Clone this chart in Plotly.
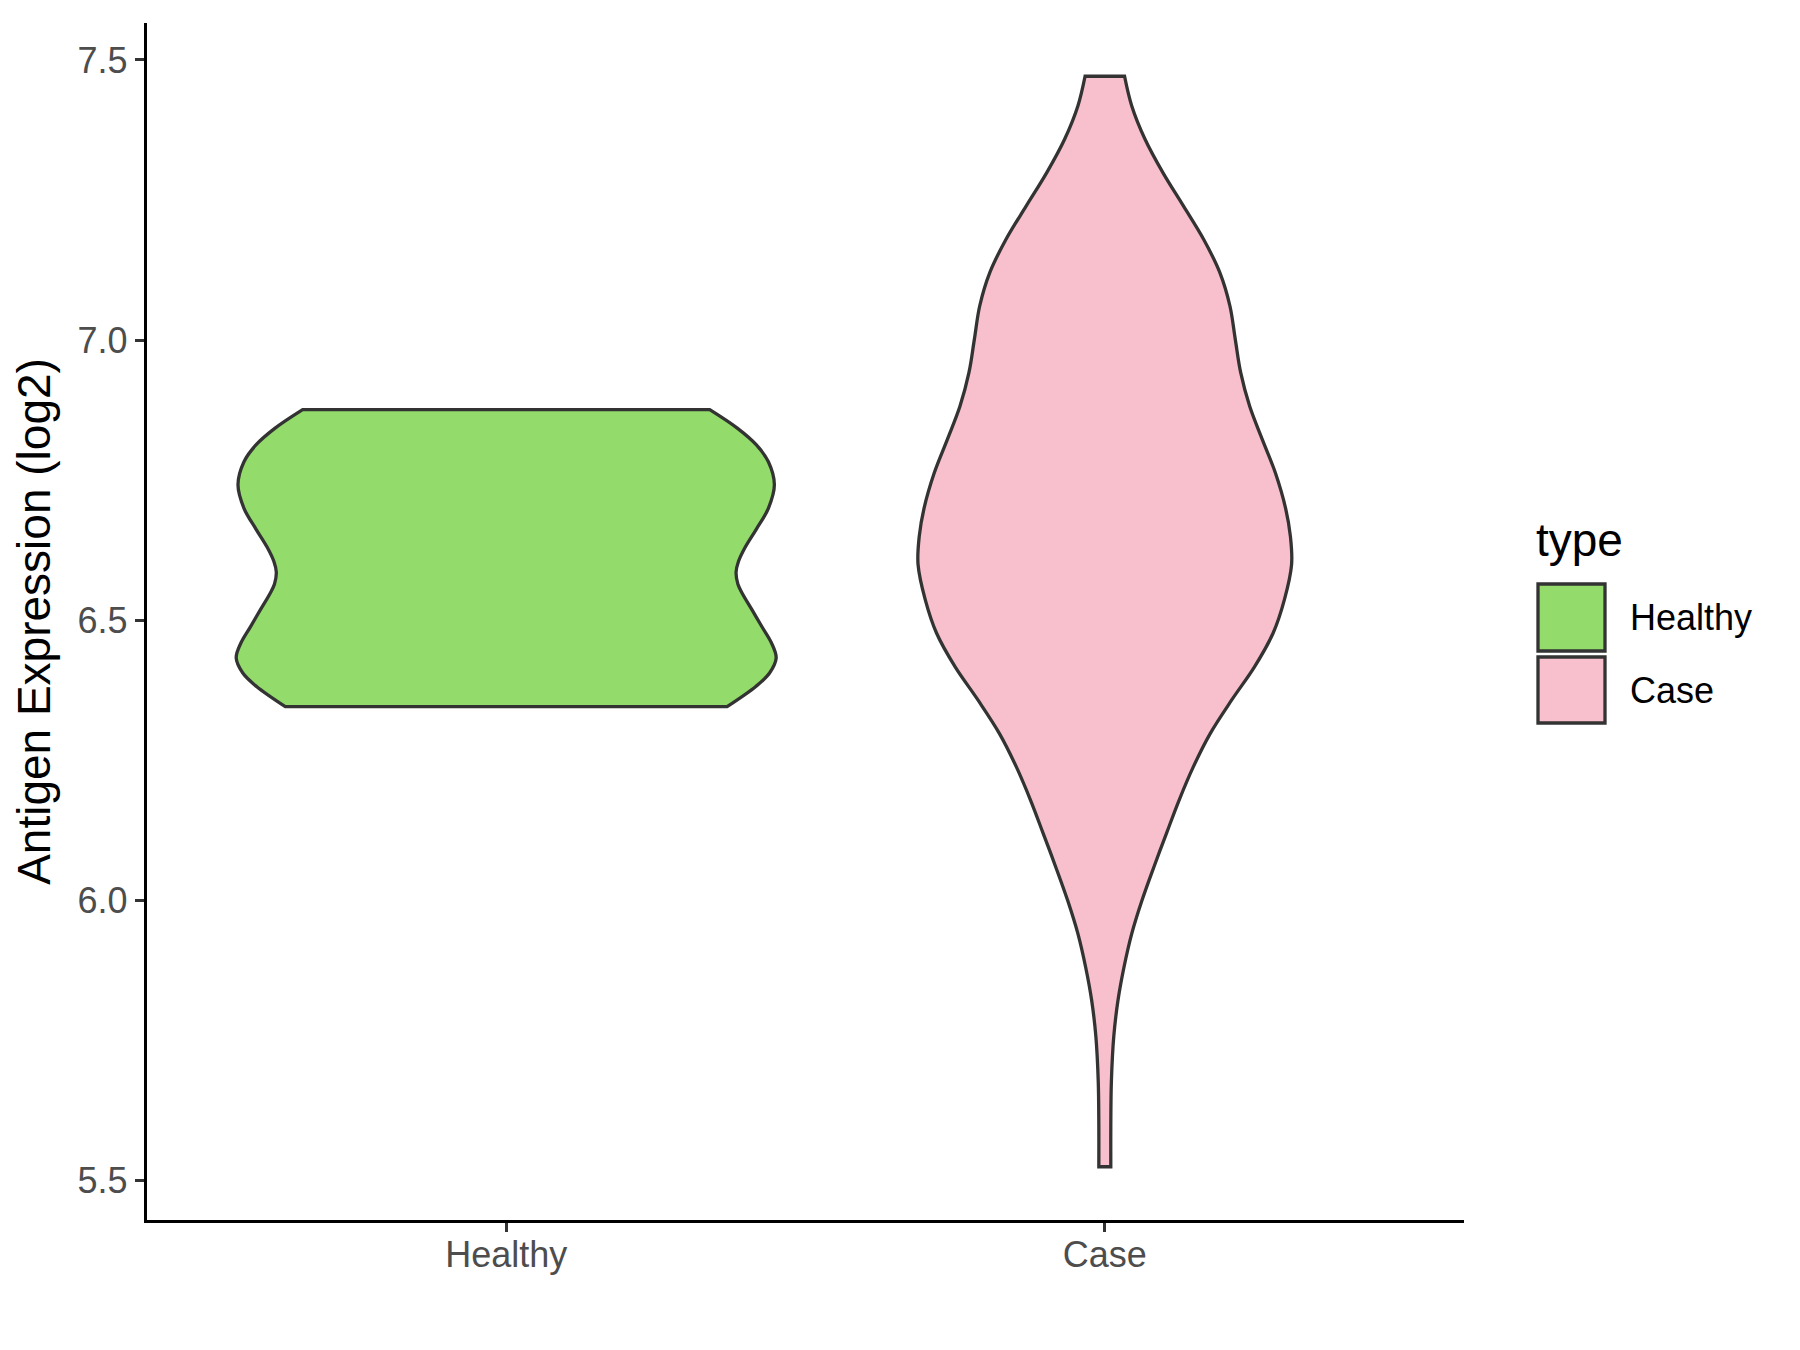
import plotly.graph_objects as go

# ---- data (violin density profiles: y value, half-width in category units)
categories = ["Healthy", "Case"]

healthy_y = [6.876, 6.843, 6.813, 6.783, 6.742, 6.700, 6.663, 6.630, 6.605, 6.586,
             6.565, 6.549, 6.520, 6.489, 6.460, 6.433, 6.406, 6.382, 6.346]
healthy_w = [0.340, 0.386, 0.418, 0.438, 0.448, 0.438, 0.418, 0.399, 0.388, 0.384,
             0.387, 0.394, 0.410, 0.427, 0.443, 0.451, 0.440, 0.417, 0.369]

case_y = [7.471, 7.418, 7.359, 7.299, 7.240, 7.180, 7.121, 7.061, 7.001, 6.942,
          6.882, 6.823, 6.763, 6.700, 6.650, 6.600, 6.537, 6.477, 6.417, 6.358,
          6.298, 6.239, 6.179, 6.120, 6.060, 6.000, 5.941, 5.881, 5.822, 5.758,
          5.678, 5.598, 5.525]
case_w = [0.033, 0.045, 0.067, 0.097, 0.131, 0.165, 0.192, 0.209, 0.218, 0.227,
          0.242, 0.263, 0.285, 0.302, 0.310, 0.312, 0.300, 0.281, 0.250, 0.212,
          0.176, 0.148, 0.124, 0.103, 0.082, 0.062, 0.045, 0.032, 0.022, 0.015,
          0.011, 0.010, 0.010]

fill_colors = ["#93DB6B", "#F7C0CC"]
y_ticks = [5.5, 6.0, 6.5, 7.0, 7.5]

FONT = "Liberation Sans, Arial, Helvetica, sans-serif"
OUTLINE = "#333333"

fig = go.Figure()
profiles = [(healthy_y, healthy_w), (case_y, case_w)]
for i, (name, (ys, ws)) in enumerate(zip(categories, profiles)):
    pos = i + 1
    right_x = [pos + w for w in ws]
    left_x = [pos - w for w in reversed(ws)]
    # duplicate corner points to keep the flat ends sharp
    xs = [right_x[0]] + right_x + [right_x[-1]] + [left_x[0]] + left_x + [left_x[-1]] + [right_x[0]]
    yy = [ys[0]] + list(ys) + [ys[-1]] + [ys[-1]] + list(reversed(ys)) + [ys[0]] + [ys[0]]
    fig.add_trace(go.Scatter(
        x=xs, y=yy, name=name, mode="lines", fill="toself",
        fillcolor=fill_colors[i],
        line=dict(color=OUTLINE, width=3.3, shape="spline", smoothing=1.0),
        showlegend=False, hoverinfo="name",
    ))

# figure size (page has an 8px body margin)
W, H = 1792, 1342
OFF = 8
# plot area in page pixels
L, R, T, B = 147, 1464, 23, 1220

def px(xp):
    return (xp - L) / (R - L)

def py(yp):
    return (B - yp) / (B - T)

# manual legend (ggplot-style large keys), page pixel positions
shapes = []
annotations = []
key_x0, key_x1 = 1538, 1605
keys = [(584, 651), (657, 723)]
for i, name in enumerate(categories):
    y0, y1 = keys[i]
    shapes.append(dict(type="rect", xref="paper", yref="paper",
                       x0=px(key_x0), x1=px(key_x1), y0=py(y1), y1=py(y0),
                       fillcolor=fill_colors[i], line=dict(color=OUTLINE, width=3.3)))
    annotations.append(dict(xref="paper", yref="paper", x=px(1628), y=py((y0 + y1) / 2),
                            text=name, showarrow=False, xanchor="left", yanchor="middle",
                            font=dict(family=FONT, size=36, color="black")))
annotations.append(dict(xref="paper", yref="paper", x=px(1534), y=py(540),
                        text="type", showarrow=False, xanchor="left", yanchor="middle",
                        font=dict(family=FONT, size=46, color="black")))

fig.update_layout(
    width=W, height=H,
    margin=dict(l=L - OFF, r=W - (R - OFF), t=T - OFF, b=H - (B - OFF), pad=0),
    paper_bgcolor="white", plot_bgcolor="white",
    font=dict(family=FONT),
    shapes=shapes, annotations=annotations,
    showlegend=False,
)
fig.update_xaxes(
    range=[0.4, 2.6], tickmode="array", tickvals=[1, 2], ticktext=categories,
    showgrid=False, zeroline=False, showline=True, linecolor="black", linewidth=3.3,
    ticks="outside", ticklen=9, tickwidth=3.3, tickcolor=OUTLINE,
    ticklabelstandoff=-8,
    tickfont=dict(family=FONT, size=36, color="#4D4D4D"),
)
fig.update_yaxes(
    range=[5.43, 7.566], tickmode="array", tickvals=y_ticks,
    ticktext=[f"{v:.1f}" for v in y_ticks],
    showgrid=False, zeroline=False, showline=True, linecolor="black", linewidth=3.3,
    ticks="outside", ticklen=9, tickwidth=3.3, tickcolor=OUTLINE,
    tickfont=dict(family=FONT, size=36, color="#4D4D4D"),
    title=dict(text="Antigen Expression (log2)", standoff=14,
               font=dict(family=FONT, size=46, color="black")),
)

fig.write_html("out.html")
